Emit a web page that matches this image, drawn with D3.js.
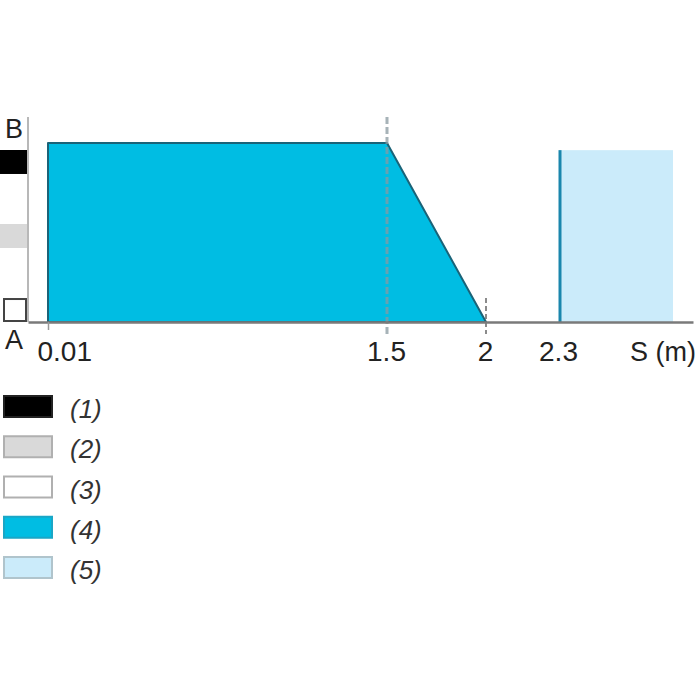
<!DOCTYPE html>
<html>
<head>
<meta charset="utf-8">
<script src="https://cdn.jsdelivr.net/npm/d3@7"></script>
<style>
  body { margin: 0; background: #fff; }
  svg { display: block; font-family: "Liberation Sans", Arial, sans-serif; }
</style>
</head>
<body>
<svg id="chart" width="700" height="700"></svg>
<script>
// Schematic distance axis (not to scale)
const axisBreaks = [0, 0.01, 1.5, 2, 2.3, 2.8, 3.1];
const xTicks = [0.01, 1.5, 2, 2.3];
const xTickLabels = ['0.01', '1.5', '2', '2.3'];
const axisTitle = 'S (m)';

// Speed profile (level 1 = B, level 0 = A)
const profileS = [0.01, 1.5, 2];
const profileLevel = [1, 1, 0];

// Zone after stop
const zoneFrom = 2.3;
const zoneTo = 2.8;
const zoneLevel = 0.96;

// Left indicators, top to bottom
const indicatorIds = ['1', '2', '3'];
const levelLabels = ['A', 'B'];

// Legend
const legendLabels = ['(1)', '(2)', '(3)', '(4)', '(5)'];
const legendColors = ['#000000', '#d9d9d9', '#ffffff', '#00bde3', '#cbebfa'];
const legendBorders = ['#222222', '#b0b0b0', '#b0b0b0', '#1aa6c6', '#b0c4cc'];

const svg = d3.select('#chart');

const x = d3.scaleLinear()
    .domain(axisBreaks)
    .range([28, 48, 387, 486, 559, 673, 693]);

const y = d3.scaleLinear()
    .domain([0, 1])
    .range([322, 143]);

const yInd = d3.scaleBand()
    .domain(indicatorIds)
    .range([150, 322])
    .paddingInner(0.676)
    .paddingOuter(0);

// light zone
svg.append('rect')
    .attr('x', x(zoneFrom))
    .attr('y', y(zoneLevel))
    .attr('width', x(zoneTo) - x(zoneFrom))
    .attr('height', y(0) - y(zoneLevel))
    .attr('fill', legendColors[4]);

svg.append('line')
    .attr('x1', x(zoneFrom) + 1).attr('x2', x(zoneFrom) + 1)
    .attr('y1', y(zoneLevel)).attr('y2', y(0))
    .attr('stroke', '#1a86ad')
    .attr('stroke-width', 3);

// profile polygon
const pts = profileS.map((s, i) => [x(s), y(profileLevel[i])]);
pts.push([x(profileS[0]), y(0)]);
svg.append('path')
    .attr('d', d3.line()(pts) + 'Z')
    .attr('fill', legendColors[3])
    .attr('stroke', '#1a6378')
    .attr('stroke-width', 2)
    .attr('stroke-linejoin', 'round');

// dashed guide at 1.5
svg.append('line')
    .attr('x1', x(1.5)).attr('x2', x(1.5))
    .attr('y1', 117).attr('y2', 334)
    .attr('stroke', '#8a9aa0')
    .attr('stroke-opacity', 0.75)
    .attr('stroke-width', 3)
    .attr('stroke-dasharray', '7,3');

// dashed tick at 2
svg.append('line')
    .attr('x1', x(2)).attr('x2', x(2))
    .attr('y1', 298).attr('y2', 334)
    .attr('stroke', '#666')
    .attr('stroke-width', 1.5)
    .attr('stroke-dasharray', '5,3');

// x axis
const xAxis = svg.append('g')
    .attr('transform', `translate(0,${y(0)})`)
    .call(d3.axisBottom(x)
        .tickValues(xTicks)
        .tickFormat((d, i) => xTickLabels[i])
        .tickSize(8)
        .tickSizeOuter(0));

xAxis.select('.domain')
    .attr('stroke', '#7a7a7a')
    .attr('stroke-width', 2.5);
xAxis.selectAll('.tick line')
    .attr('stroke', '#999')
    .attr('stroke-width', 1.5)
    .attr('opacity', (d, i) => i === 0 ? 1 : 0);
xAxis.selectAll('.tick text')
    .attr('y', 39)
    .attr('dy', 0)
    .attr('fill', '#222')
    .style('font-size', '28px')
    .style('font-family', '"Liberation Sans", Arial, sans-serif')
    .attr('text-anchor', (d, i) => i === 0 ? 'start' : 'middle')
    .attr('x', (d, i) => i === 0 ? -11 : -1);

svg.append('text')
    .attr('x', 696)
    .attr('y', y(0) + 39)
    .attr('text-anchor', 'end')
    .attr('fill', '#222')
    .style('font-size', '27px')
    .text(axisTitle);

// vertical axis line
svg.append('line')
    .attr('x1', 28).attr('x2', 28)
    .attr('y1', 117).attr('y2', y(0))
    .attr('stroke', '#a0a0a0')
    .attr('stroke-width', 1.5);

// level labels
svg.selectAll('.lvl')
    .data(levelLabels)
    .enter()
    .append('text')
    .attr('class', 'lvl')
    .attr('x', 14)
    .attr('y', (d, i) => i === 1 ? 138 : 349)
    .attr('text-anchor', 'middle')
    .attr('fill', '#222')
    .style('font-size', '27px')
    .text(d => d);

// indicator squares
svg.selectAll('.ind')
    .data(indicatorIds)
    .enter()
    .append('rect')
    .attr('class', 'ind')
    .attr('x', (d, i) => i === 2 ? 4 : 0)
    .attr('y', d => yInd(d) + (d === '3' ? 1 : 0))
    .attr('width', (d, i) => i === 2 ? 22 : 27)
    .attr('height', d => yInd.bandwidth() - (d === '3' ? 2 : 0))
    .attr('fill', (d, i) => legendColors[i])
    .attr('stroke', (d, i) => i === 2 ? '#444' : 'none')
    .attr('stroke-width', 2);

// legend
const legendY = d3.scalePoint()
    .domain(legendLabels)
    .range([396, 557]);

const lg = svg.selectAll('.leg')
    .data(legendLabels)
    .enter()
    .append('g')
    .attr('class', 'leg')
    .attr('transform', d => `translate(0,${legendY(d)})`);

lg.append('rect')
    .attr('x', 4)
    .attr('y', 0)
    .attr('width', 48)
    .attr('height', 21)
    .attr('fill', (d, i) => legendColors[i])
    .attr('stroke', (d, i) => legendBorders[i])
    .attr('stroke-width', 2);

lg.append('text')
    .attr('x', 70)
    .attr('y', 22)
    .attr('fill', '#333')
    .style('font-size', '26px')
    .style('font-style', 'italic')
    .text(d => d);
</script>
</body>
</html>
